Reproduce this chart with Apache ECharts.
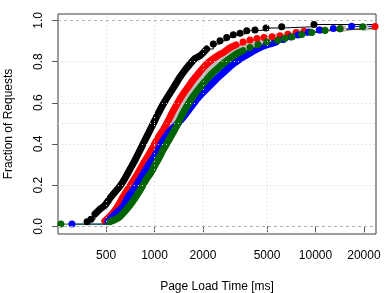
<!DOCTYPE html>
<html><head><meta charset="utf-8">
<script src="https://cdn.jsdelivr.net/npm/echarts@6/dist/echarts.min.js"></script>
<style>html,body{margin:0;padding:0;background:#fff}#c{width:390px;height:293px}</style>
</head><body><div id="c"></div>
<script>
// axis ticks / grid
const xTickLabels = [500, 1000, 2000, 5000, 10000, 20000];
const yTickLabels = [0, 0.2, 0.4, 0.6, 0.8, 1.0];
const xGridLines = [500, 1000, 2000, 5000];
const yGridLines = [0.2, 0.4, 0.5, 0.6, 0.8];
const refLines = [0, 1];
const xRange = [251.5, 23760];
const yRange = [-0.037, 1.031];

// series values (Page Load Time [ms], Fraction of Requests)
const blackX = [381,403,427,459,493,529,569,611,656,705,757,813,873,938,1007,1082,1162,1248,1341,1440,1547,1662,1784,1917,2110,2319,2552,2808,3087,3397,3738,4210,4926,6167,9788];
const blackY = [0.022,0.034,0.060,0.084,0.103,0.137,0.167,0.196,0.234,0.278,0.322,0.370,0.419,0.467,0.516,0.565,0.608,0.647,0.686,0.725,0.759,0.788,0.815,0.828,0.861,0.885,0.901,0.917,0.930,0.937,0.950,0.953,0.963,0.969,0.980];

const redX = [491,514,552,593,637,684,736,790,848,911,979,1051,1129,1213,1303,1400,1503,1615,1734,1863,2001,2149,2309,2480,2702,2944,3208,3546,3919,4331,4787,5369,6020,6750,7566,8484,10666,14200,23425];
const redY = [0.026,0.040,0.065,0.099,0.142,0.181,0.220,0.259,0.302,0.341,0.385,0.429,0.467,0.511,0.560,0.603,0.642,0.676,0.710,0.740,0.769,0.794,0.813,0.830,0.846,0.867,0.881,0.895,0.905,0.912,0.917,0.921,0.926,0.933,0.941,0.947,0.953,0.960,0.970];

const grayX = [500,537,577,628,675,725,779,836,898,972,1044,1121,1204,1293,1390,1493,1603,1722,1850,2001,2165,2342,2516,2741,2987,3302,3648,4033,4522,5070,5767,6653,7786,9243,11460,14820,20300];
const grayY = [0.026,0.045,0.069,0.103,0.142,0.181,0.220,0.259,0.302,0.341,0.385,0.429,0.467,0.511,0.560,0.603,0.642,0.676,0.710,0.740,0.769,0.794,0.810,0.827,0.844,0.861,0.875,0.887,0.900,0.909,0.921,0.931,0.941,0.949,0.955,0.961,0.965];

const blueX = [307,514,545,585,637,684,746,779,836,879,934,997,1077,1134,1261,1440,1615,1759,1917,2104,2293,2498,2721,2944,3208,3596,4004,4458,5070,5686,6310,7043,7786,9023,10560,12900,16780];
const blueY = [0.011,0.026,0.045,0.069,0.096,0.142,0.181,0.205,0.244,0.273,0.307,0.338,0.386,0.419,0.467,0.511,0.560,0.599,0.635,0.667,0.696,0.725,0.751,0.776,0.798,0.824,0.846,0.866,0.883,0.895,0.907,0.919,0.929,0.943,0.953,0.961,0.971];

const greenX = [262,529,569,611,656,705,757,813,848,898,958,1007,1066,1129,1196,1266,1341,1420,1503,1592,1710,1837,1972,2119,2276,2480,2702,2944,3208,3546,3919,4395,4977,5848,6466,7145,8210,9471,11460,14200,19650];
const greenY = [0.011,0.023,0.033,0.048,0.074,0.103,0.137,0.176,0.200,0.234,0.264,0.298,0.332,0.370,0.404,0.438,0.472,0.511,0.550,0.584,0.623,0.657,0.686,0.715,0.742,0.768,0.793,0.815,0.836,0.853,0.868,0.883,0.895,0.904,0.913,0.920,0.931,0.941,0.951,0.960,0.969];

// dense (overlapping-point) portion of each curve: [first, last] index
const blackDense = [2, 24];
const redDense = [0, 26];
const grayDense = [0, 27];
const blueDense = [1, 29];
const greenDense = [1, 29];

const L = Math.log10;
const FONT = 'Liberation Sans, Arial, sans-serif';
const beyond = L(40000);

function makeSeries(name, color, xs, ys, dense) {
  const pts = xs.map((v, i) => [L(v), ys[i]]);
  const last = pts[pts.length - 1];
  const out = [];
  const stepStyle = (data, sizes) => ({
    name: name, type: 'line', step: 'end', clip: true, silent: true,
    data: data, symbol: 'circle', symbolSize: sizes,
    showSymbol: true, showAllSymbol: true,
    itemStyle: { color: color }, lineStyle: { color: color, width: 1 }
  });
  if (dense[0] > 0) {
    out.push(stepStyle(pts.slice(0, dense[0] + 1), (v, p) => (p.dataIndex === dense[0] ? 0 : 7)));
  }
  out.push({
    name: name + '-band', type: 'line', data: pts.slice(dense[0], dense[1] + 1),
    showSymbol: false, symbol: 'none', smooth: 0.3, silent: true,
    lineStyle: { color: color, width: 7, cap: 'round', join: 'round' }
  });
  const tail = pts.slice(dense[1]).concat([[beyond, last[1]]]);
  out.push(stepStyle(tail, (v, p) => (p.dataIndex === 0 || p.dataIndex === tail.length - 1 ? 0 : 7)));
  return out;
}

const chart = echarts.init(document.getElementById('c'), null, { renderer: 'canvas' });
const option = {
  animation: false,
  backgroundColor: '#ffffff',
  grid: { left: 58, top: 14, width: 318, height: 220, containLabel: false, outerBoundsMode: 'none', show: true, borderColor: '#3a3a3a', borderWidth: 1, backgroundColor: 'transparent' },
  xAxis: {
    type: 'value', min: L(xRange[0]), max: L(xRange[1]),
    name: 'Page Load Time [ms]', nameLocation: 'middle', nameGap: 47,
    nameTextStyle: { fontFamily: FONT, fontSize: 12, color: '#000' },
    axisLine: { show: false },
    axisTick: { show: true, customValues: xTickLabels.map(L), length: 6, lineStyle: { color: '#555' } },
    axisLabel: { customValues: xTickLabels.map(L), formatter: v => String(Math.round(Math.pow(10, v))), fontFamily: FONT, fontSize: 12, color: '#000', margin: 16 },
    splitLine: { show: false }
  },
  yAxis: {
    type: 'value', min: yRange[0], max: yRange[1],
    name: 'Fraction of Requests', nameLocation: 'middle', nameGap: 43, nameRotate: 90,
    nameTextStyle: { fontFamily: FONT, fontSize: 12, color: '#000' },
    axisLine: { show: false },
    axisTick: { show: true, customValues: yTickLabels, length: 6, lineStyle: { color: '#555' } },
    axisLabel: { customValues: yTickLabels, rotate: 90, formatter: v => v.toFixed(1), fontFamily: FONT, fontSize: 12, color: '#000', margin: 13 },
    splitLine: { show: false }
  },
  series: [
    {
      type: 'line', data: [], silent: true,
      markLine: {
        silent: true, symbol: 'none', label: { show: false }, animation: false,
        lineStyle: { color: '#d3d3d3', type: [1, 3], width: 1 },
        data: xGridLines.map(v => ({ xAxis: L(v) })).concat(yGridLines.map(v => ({ yAxis: v })))
      }
    },
    {
      type: 'line', data: [], silent: true,
      markLine: {
        silent: true, symbol: 'none', label: { show: false }, animation: false,
        lineStyle: { color: '#b3b3b3', type: [3, 3], width: 1 },
        data: refLines.map(v => ({ yAxis: v }))
      }
    },
    ...makeSeries('black', '#000000', blackX, blackY, blackDense),
    ...makeSeries('gray', '#bebebe', grayX, grayY, grayDense),
    ...makeSeries('red', '#ff0000', redX, redY, redDense),
    ...makeSeries('blue', '#0000ff', blueX, blueY, blueDense),
    ...makeSeries('green', '#006400', greenX, greenY, greenDense)
  ]
};
chart.setOption(option);
</script>
</body></html>
